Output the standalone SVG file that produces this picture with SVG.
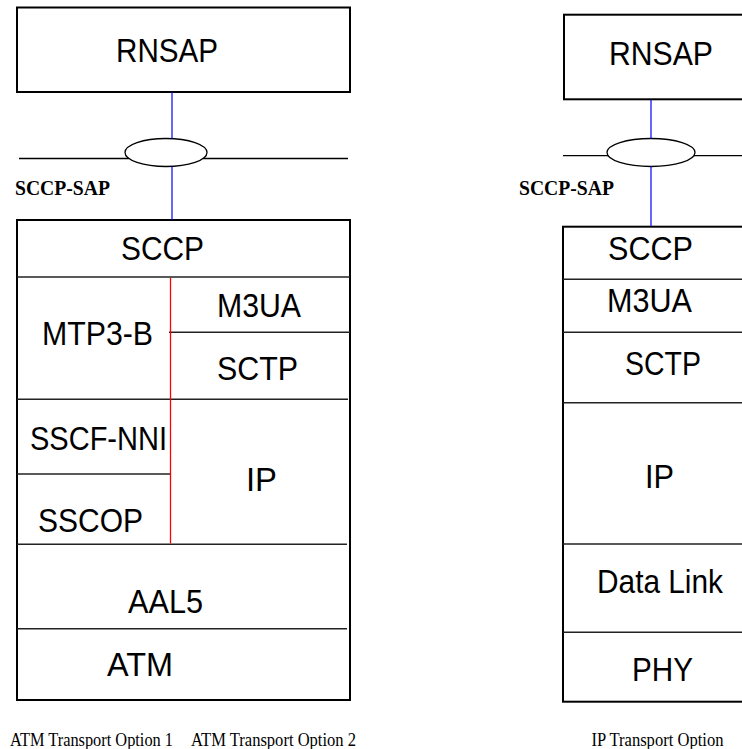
<svg xmlns="http://www.w3.org/2000/svg" width="742" height="749" viewBox="0 0 742 749">
<style>
.box{fill:#fff;stroke:#000;stroke-width:2}
.div{stroke:#222;stroke-width:1.5;fill:none}
.lbl{font-family:"Liberation Sans",Arial,sans-serif;font-size:34px;fill:#000}
.sap{font-family:"Liberation Serif","Times New Roman",serif;font-size:20px;font-weight:bold;fill:#000}
.cap{font-family:"Liberation Serif","Times New Roman",serif;font-size:19px;fill:#000}
.ell{fill:#fff;stroke:#000;stroke-width:1.3}
.hl{stroke:#000;stroke-width:1.3}
.blue{stroke:#0000ff;stroke-width:1.2}
.red{stroke:#ff0000;stroke-width:1.3}
</style>
<rect width="742" height="749" fill="#fff"/>

<!-- Left stack -->
<g id="rnsap-left">
  <rect class="box" x="17" y="7.5" width="333" height="84.5"/>
  <text class="lbl" x="116" y="62" textLength="102" lengthAdjust="spacingAndGlyphs">RNSAP</text>
</g>
<g id="sccp-sap-left">
  <line class="hl" x1="19" y1="158.5" x2="129" y2="158.5"/>
  <line class="hl" x1="203" y1="158.5" x2="348" y2="158.5"/>
  <ellipse class="ell" cx="166" cy="152.5" rx="41" ry="14"/>
  <text class="sap" x="15" y="195" textLength="95" lengthAdjust="spacingAndGlyphs">SCCP-SAP</text>
</g>
<g id="stack-left">
  <rect class="box" x="17" y="220" width="333" height="480"/>
  <line class="div" x1="17" y1="277" x2="350" y2="277"/>
  <line class="div" x1="169" y1="332.3" x2="350" y2="332.3"/>
  <line class="div" x1="17" y1="399.3" x2="348" y2="399.3"/>
  <line class="div" x1="17" y1="474" x2="170" y2="474"/>
  <line class="div" x1="17" y1="544.3" x2="347" y2="544.3"/>
  <line class="div" x1="17" y1="628.7" x2="347" y2="628.7"/>
</g>
<g id="sccp-left"><text class="lbl" x="121" y="260" textLength="83" lengthAdjust="spacingAndGlyphs">SCCP</text></g>
<g id="mtp3b"><text class="lbl" x="42" y="345" textLength="111" lengthAdjust="spacingAndGlyphs">MTP3-B</text></g>
<g id="m3ua-left"><text class="lbl" x="217" y="316.7" textLength="84" lengthAdjust="spacingAndGlyphs">M3UA</text></g>
<g id="sctp-left"><text class="lbl" x="217" y="380" textLength="81" lengthAdjust="spacingAndGlyphs">SCTP</text></g>
<g id="sscf-nni"><text class="lbl" x="30" y="450" textLength="137" lengthAdjust="spacingAndGlyphs">SSCF-NNI</text></g>
<g id="ip-left"><text class="lbl" x="246" y="490.7" textLength="31" lengthAdjust="spacingAndGlyphs">IP</text></g>
<g id="sscop"><text class="lbl" x="38" y="531.7" textLength="105" lengthAdjust="spacingAndGlyphs">SSCOP</text></g>
<g id="aal5"><text class="lbl" x="128" y="612.7" textLength="75" lengthAdjust="spacingAndGlyphs">AAL5</text></g>
<g id="atm"><text class="lbl" x="107" y="676" textLength="66" lengthAdjust="spacingAndGlyphs">ATM</text></g>

<!-- Right stack -->
<g id="rnsap-right">
  <rect class="box" x="564" y="14.7" width="200" height="84.6"/>
  <text class="lbl" x="609" y="65" textLength="104" lengthAdjust="spacingAndGlyphs">RNSAP</text>
</g>
<g id="sccp-sap-right">
  <line class="hl" x1="563" y1="155.7" x2="608" y2="155.7"/>
  <line class="hl" x1="694" y1="155.7" x2="742" y2="155.7"/>
  <ellipse class="ell" cx="651" cy="152.5" rx="44" ry="14"/>
  <text class="sap" x="519" y="195" textLength="95" lengthAdjust="spacingAndGlyphs">SCCP-SAP</text>
</g>
<g id="stack-right">
  <rect class="box" x="563" y="226.7" width="200" height="475"/>
  <line class="div" x1="563" y1="279.3" x2="742" y2="279.3"/>
  <line class="div" x1="563" y1="332.3" x2="742" y2="332.3"/>
  <line class="div" x1="563" y1="402.7" x2="742" y2="402.7"/>
  <line class="div" x1="563" y1="544" x2="742" y2="544"/>
  <line class="div" x1="563" y1="632.3" x2="742" y2="632.3"/>
</g>
<g id="sccp-right"><text class="lbl" x="608" y="260" textLength="85" lengthAdjust="spacingAndGlyphs">SCCP</text></g>
<g id="m3ua-right"><text class="lbl" x="607" y="312.3" textLength="85" lengthAdjust="spacingAndGlyphs">M3UA</text></g>
<g id="sctp-right"><text class="lbl" x="625" y="375" textLength="76" lengthAdjust="spacingAndGlyphs">SCTP</text></g>
<g id="ip-right"><text class="lbl" x="645" y="488.3" textLength="29" lengthAdjust="spacingAndGlyphs">IP</text></g>
<g id="data-link"><text class="lbl" x="597" y="593.3" textLength="126" lengthAdjust="spacingAndGlyphs">Data Link</text></g>
<g id="phy"><text class="lbl" x="632" y="681" textLength="61" lengthAdjust="spacingAndGlyphs">PHY</text></g>

<g id="captions">
  <text class="cap" x="10" y="745.5" textLength="163" lengthAdjust="spacingAndGlyphs">ATM Transport Option 1</text>
  <text class="cap" x="191" y="745.5" textLength="165" lengthAdjust="spacingAndGlyphs">ATM Transport Option 2</text>
  <text class="cap" x="591.5" y="745.5" textLength="132" lengthAdjust="spacingAndGlyphs">IP Transport Option</text>
</g>

<g id="connectors">
  <line class="blue" x1="172" y1="92" x2="172" y2="138.5"/>
  <line class="blue" x1="172" y1="166.5" x2="172" y2="220"/>
  <line class="blue" x1="651" y1="100" x2="651" y2="138.5"/>
  <line class="blue" x1="651" y1="166.5" x2="651" y2="226"/>
  <line class="red" x1="170.5" y1="278" x2="170.5" y2="543.5"/>
</g>
</svg>
